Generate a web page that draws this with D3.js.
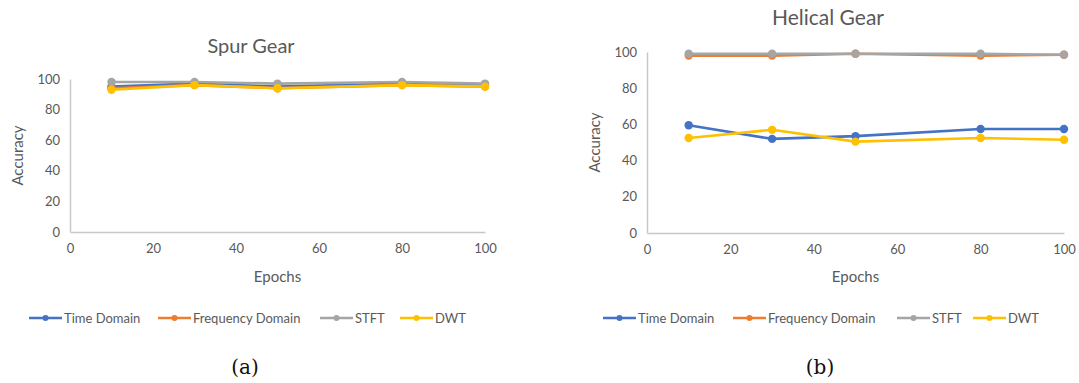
<!DOCTYPE html>
<html><head><meta charset="utf-8">
<script src="https://cdn.jsdelivr.net/npm/d3@7"></script>
<style>body{margin:0;background:#fff}svg{display:block}</style>
</head><body>
<svg id="c" width="1079" height="383"></svg>
<script>
const epochs = [10, 30, 50, 80, 100];
const seriesNames = ["Time Domain", "Frequency Domain", "STFT", "DWT"];
const xTicks = [0, 20, 40, 60, 80, 100];
const yTicks = [0, 20, 40, 60, 80, 100];
// Spur gear
const spurTime = [95, 97, 95, 97, 96];
const spurFreq = [94, 96, 94, 96, 95];
const spurSTFT = [98, 98, 97, 98, 97];
const spurDWT  = [93, 96, 94, 96, 95];
// Helical gear
const helTime = [59.5, 52, 53.5, 57.5, 57.5];
const helFreq = [98, 98, 99, 98, 98.5];
const helSTFT = [99, 99, 99, 99, 98.5];
const helDWT  = [52.5, 57, 50.5, 52.5, 51.5];

const colors = ["#4472C4", "#ED7D31", "#A5A5A5", "#FFC000"];
const svg = d3.select("#c");
const FONT = "Lato, 'Open Sans', sans-serif";

function drawChart(o) {
  const x = d3.scaleLinear().domain([0, 100]).range([o.x0, o.x1]);
  const y = d3.scaleLinear().domain([0, 100]).range([o.y0, o.y1]);
  const g = svg.append("g");
  // axes
  const ya = g.append("g").attr("transform", `translate(${o.x0},0)`)
    .call(d3.axisLeft(y).tickValues(yTicks).tickSize(0).tickPadding(10));
  const xa = g.append("g").attr("transform", `translate(0,${o.y0})`)
    .call(d3.axisBottom(x).tickValues(xTicks).tickSize(0).tickPadding(12));
  [ya, xa].forEach(a => {
    a.select(".domain").attr("stroke", "#c8c8c8").attr("stroke-width", 1.5);
    a.selectAll("text").attr("fill", "#595959").style("font-family", FONT).style("font-size", "13px");
  });
  // titles
  g.append("text").attr("x", o.tx).attr("y", o.ty).attr("text-anchor", "middle")
    .attr("fill", "#595959").style("font-family", FONT).style("font-size", o.tsize).text(o.title);
  g.append("text").attr("x", (o.x0 + o.x1) / 2).attr("y", 282).attr("text-anchor", "middle")
    .attr("fill", "#595959").style("font-family", FONT).style("font-size", "15px").text("Epochs");
  g.append("text").attr("transform", `translate(${o.ax},${(o.y0 + o.y1) / 2}) rotate(-90)`)
    .attr("text-anchor", "middle").attr("fill", "#595959").style("font-family", FONT)
    .style("font-size", "15px").text("Accuracy");
  // lines
  const line = d3.line().x((d, i) => x(epochs[i])).y(d => y(d));
  o.data.forEach((vals, k) => {
    g.append("path").datum(vals).attr("d", line).attr("fill", "none")
      .attr("stroke", colors[k]).attr("stroke-width", 2.6).attr("stroke-linejoin", "round");
    g.selectAll(null).data(vals).enter().append("circle")
      .attr("cx", (d, i) => x(epochs[i])).attr("cy", d => y(d)).attr("r", 4.2).attr("fill", colors[k]);
  });
  // legend
  o.legend.forEach((lx, k) => {
    const ly = 318;
    g.append("line").attr("x1", lx).attr("x2", lx + 33).attr("y1", ly).attr("y2", ly)
      .attr("stroke", colors[k]).attr("stroke-width", 2.5);
    g.append("circle").attr("cx", lx + 16.5).attr("cy", ly).attr("r", 3).attr("fill", colors[k]);
    g.append("text").attr("x", lx + 35).attr("y", ly + 4.5).attr("fill", "#595959")
      .style("font-family", FONT).style("font-size", "13px").text(seriesNames[k]);
  });
  // caption
  g.append("text").attr("x", o.cx).attr("y", 374).attr("text-anchor", "middle")
    .attr("fill", "#111").style("font-family", "'DejaVu Serif', 'Liberation Serif', serif")
    .style("font-size", "20px").text(o.caption);
}

drawChart({x0: 70, x1: 485, y0: 232, y1: 79, title: "Spur Gear", tx: 251, ty: 53, tsize: "20px", ax: 23,
  data: [spurTime, spurFreq, spurSTFT, spurDWT], legend: [29, 158, 320, 400], cx: 245, caption: "(a)"});
drawChart({x0: 647, x1: 1064, y0: 233, y1: 52, title: "Helical Gear", tx: 828, ty: 25, tsize: "21px", ax: 600,
  data: [helTime, helFreq, helSTFT, helDWT], legend: [603, 733, 897, 973], cx: 820, caption: "(b)"});
</script>
</body></html>
